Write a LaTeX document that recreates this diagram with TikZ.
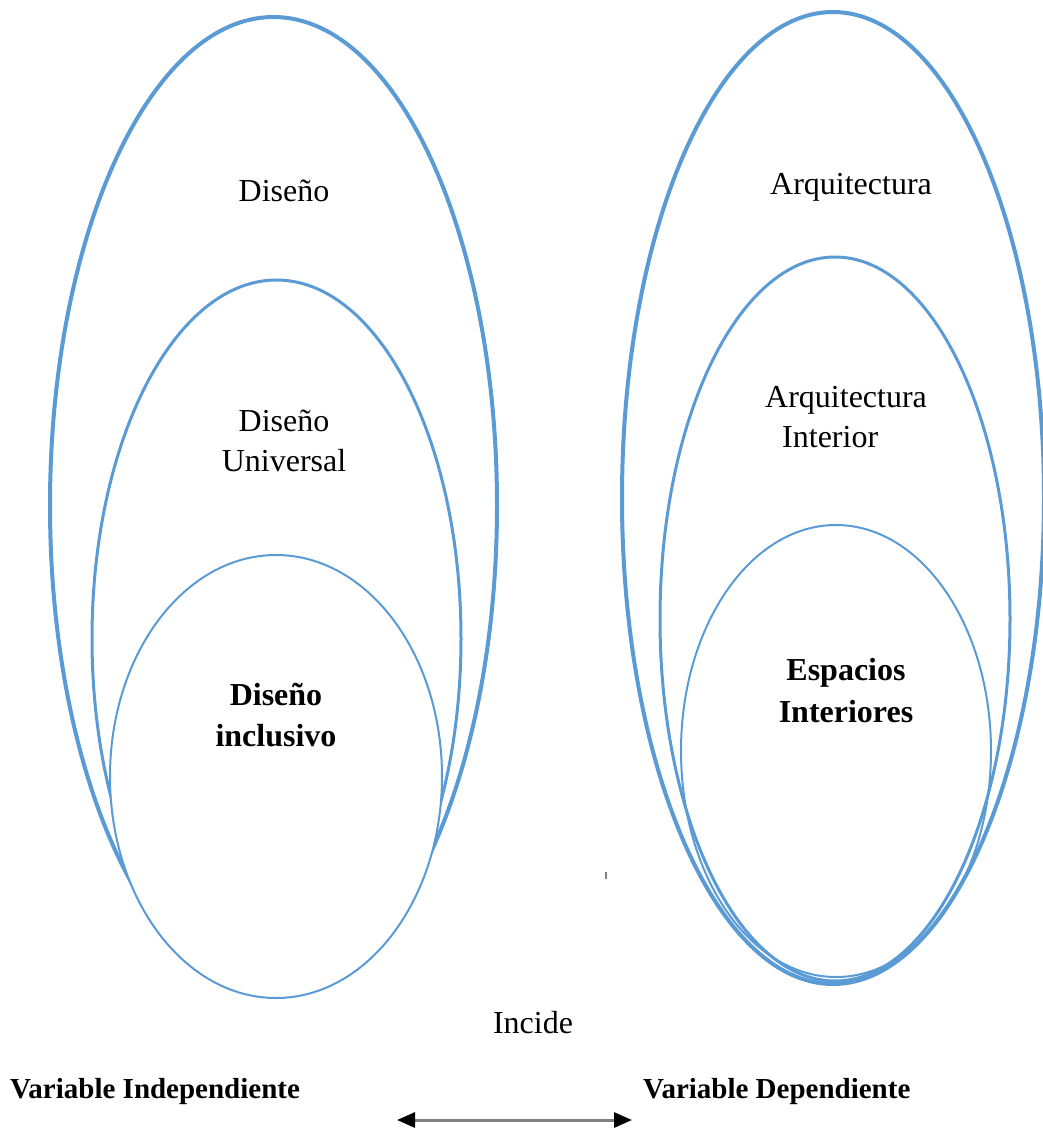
\documentclass[tikz,border=0pt]{standalone}
\usepackage{fontspec}
\setmainfont{Liberation Serif}
\usetikzlibrary{shapes.geometric,arrows.meta}
\definecolor{ovalblue}{RGB}{91,155,213}
\definecolor{arrowgray}{RGB}{128,128,128}
\tikzset{
  oval/.style={ellipse,draw=ovalblue,inner sep=0pt,outer sep=0pt},
  ovalA/.style={oval,line width=4pt},
  ovalB/.style={oval,line width=3pt},
  ovalC/.style={oval,line width=2pt},
  lbl/.style={anchor=base,inner sep=0pt,font=\fontsize{32}{40}\selectfont},
  lblb/.style={lbl,font=\fontsize{32}{40}\selectfont\bfseries},
  varlbl/.style={anchor=base west,inner sep=0pt,font=\fontsize{29}{36}\selectfont\bfseries},
}
\begin{document}
\begin{tikzpicture}[x=1pt,y=-1pt]
\useasboundingbox (0,0) rectangle (1043,1128);
% left group (filled, inner ones hide the outer bottoms)
\node[ovalA,fill=white,minimum width=447pt,minimum height=977pt] (L1) at (273.5,505.5) {};
\node[ovalB,fill=white,minimum width=369pt,minimum height=717pt] (L2) at (276.5,638.5) {};
\node[ovalC,fill=white,minimum width=332pt,minimum height=443pt] (L3) at (276,776.5) {};
% right group (outlines only)
\node[ovalA,minimum width=422pt,minimum height=972pt] (R1) at (833,498) {};
\node[ovalB,minimum width=350pt,minimum height=724pt] (R2) at (835,619) {};
\node[ovalC,minimum width=310pt,minimum height=452pt] (R3) at (836,751) {};
% labels
\node[lbl] (t1) at (284,201) {Diseño};
\node[lbl] (t2a) at (284,431) {Diseño};
\node[lbl] (t2b) at (284,471) {Universal};
\node[lblb] (t3a) at (276,705) {Diseño};
\node[lblb] (t3b) at (276,746) {inclusivo};
\node[lbl] (r1) at (851,194) {Arquitectura};
\node[lbl,anchor=base west] (r2a) at (765,407) {Arquitectura};
\node[lbl,anchor=base west] (r2b) at (782,447) {Interior};
\node[lblb] (r3a) at (846,680) {Espacios};
\node[lblb] (r3b) at (846,722) {Interiores};
\node[lbl] (inc) at (533,1033) {Incide};
\node[varlbl] (vi) at (10,1098) {Variable Independiente};
\node[varlbl] (vd) at (643,1098) {Variable Dependiente};
% arrow
\coordinate (aL) at (397,1120);
\coordinate (aR) at (632,1120);
\draw[arrowgray,line width=3pt,{Triangle[black,length=18pt,width=15pt]}-{Triangle[black,length=18pt,width=15pt]}] (aL) -- (aR);
% small tick
\coordinate (k1) at (606,872);
\coordinate (k2) at (606,879);
\draw[arrowgray,line width=1.5pt] (k1) -- (k2);
\end{tikzpicture}
\end{document}
